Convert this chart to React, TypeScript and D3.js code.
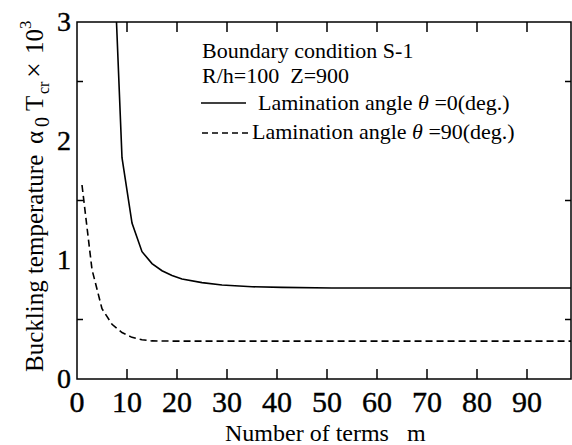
import React from 'react';
import * as d3 from 'd3';

// terms m and buckling temperature (x10^3)
const mSolid = [7, 9, 11, 13, 15, 17, 19, 21, 25, 29, 35, 41, 51, 71, 99];
const tSolid = [3.93, 1.86, 1.31, 1.07, 0.97, 0.91, 0.87, 0.84, 0.81, 0.79, 0.775, 0.77, 0.765, 0.765, 0.765];
const mDashed = [1, 3, 5, 7, 9, 11, 13, 15, 21, 31, 51, 99];
const tDashed = [1.63, 0.92, 0.59, 0.46, 0.39, 0.35, 0.33, 0.32, 0.318, 0.318, 0.318, 0.318];

const xTicks = [10, 20, 30, 40, 50, 60, 70, 80, 90];
const xLabels = [0, 10, 20, 30, 40, 50, 60, 70, 80, 90];
const yTicks = [0.5, 1.5, 2.5];
const yLabels = [0, 1, 2, 3];

const serif = { fontFamily: 'Liberation Serif' };

const left = 77, right = 571, top = 22, bottom = 379;

export default function App() {
  const x = d3.scaleLinear().domain([0, 98.8]).range([left, right]);
  const y = d3.scaleLinear().domain([0, 3]).range([bottom, top]);

  const line = d3.line<[number, number]>()
    .x(d => x(d[0]))
    .y(d => y(d[1]));

  const solid = mSolid.map((m, i) => [m, tSolid[i]] as [number, number]);
  const dashed = mDashed.map((m, i) => [m, tDashed[i]] as [number, number]);

  return (
    <svg width={572} height={445} style={{ position: 'absolute', left: 0, top: 0, background: '#fff' }}>
      <defs>
        <clipPath id="plot">
          <rect x={left} y={top} width={right - left} height={bottom - top} />
        </clipPath>
      </defs>

      {/* frame */}
      <rect x={left} y={top} width={right - left} height={bottom - top} fill="none" stroke="#000" strokeWidth={1.5} />

      {/* x ticks, top and bottom */}
      {xTicks.map(t => (
        <g key={'xt' + t} stroke="#000" strokeWidth={1.5}>
          <line x1={x(t)} x2={x(t)} y1={bottom} y2={bottom - 10} />
          <line x1={x(t)} x2={x(t)} y1={top} y2={top + 10} />
        </g>
      ))}
      {/* y ticks, left and right */}
      {yTicks.map(t => (
        <g key={'yt' + t} stroke="#000" strokeWidth={1.5}>
          <line x1={left} x2={left + 6} y1={y(t)} y2={y(t)} />
          <line x1={right} x2={right - 6} y1={y(t)} y2={y(t)} />
        </g>
      ))}

      {/* tick labels */}
      <g stroke="#000" strokeWidth={0.4} style={serif}>
        {xLabels.map(t => (
          <text key={'xl' + t} x={x(t)} y={412} fontSize={30} textAnchor="middle">{t}</text>
        ))}
        {yLabels.map(t => (
          <text key={'yl' + t} x={71} y={y(t) + 9} fontSize={28} textAnchor="end">{t}</text>
        ))}
      </g>

      {/* curves */}
      <g clipPath="url(#plot)" fill="none" stroke="#000" strokeWidth={1.6}>
        <path d={line(solid) || ''} />
        <path d={line(dashed) || ''} strokeDasharray="7,4" />
      </g>

      {/* legend */}
      <g fontSize={22} style={serif}>
        <text x={202} y={58}>Boundary condition S-1</text>
        <text x={202} y={83}>R/h=100{'\u00a0\u00a0'}Z=900</text>
        <line x1={201} x2={246} y1={103} y2={103} stroke="#000" strokeWidth={1.5} />
        <text x={258} y={110}>Lamination angle <tspan fontStyle="italic">θ</tspan> =0(deg.)</text>
        <line x1={202} x2={248} y1={133} y2={133} stroke="#000" strokeWidth={1.5} strokeDasharray="6,4" />
        <text x={252} y={139}>Lamination angle <tspan fontStyle="italic">θ</tspan> =90(deg.)</text>
      </g>

      {/* axis titles */}
      <g fontSize={24} style={serif}>
        <text x={225} y={441}>Number of terms</text>
        <text x={407} y={441}>m</text>
      </g>
      <text transform="translate(43,372) rotate(-90)" fontSize={25} style={serif}>
        <tspan x={0}>Buckling temperature</tspan>
        <tspan x={228}>α</tspan>
        <tspan x={245} dy={6} fontSize={20}>0</tspan>
        <tspan x={261} dy={-6}>T</tspan>
        <tspan x={278} dy={6} fontSize={16}>cr</tspan>
        <tspan x={294} dy={-6} fontSize={28}>×</tspan>
        <tspan x={318}>10</tspan>
        <tspan x={343} dy={-12} fontSize={17}>3</tspan>
      </text>
    </svg>
  );
}
